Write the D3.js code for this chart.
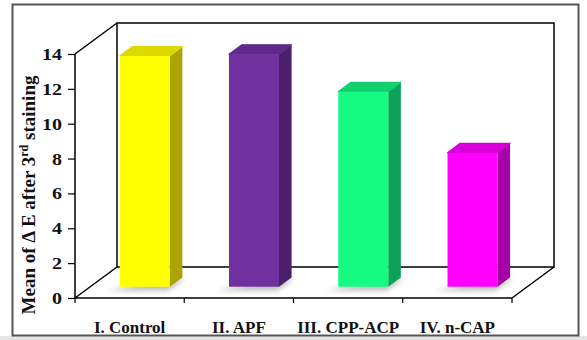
<!DOCTYPE html>
<html>
<head>
<meta charset="utf-8">
<script src="https://cdn.jsdelivr.net/npm/d3@7"></script>
<style>
  html, body { margin: 0; padding: 0; background: #fff; }
  svg { display: block; }
  text { font-family: "Liberation Serif", "Times New Roman", serif; font-weight: bold; fill: #111; }
</style>
</head>
<body>
<svg id="chart" width="587" height="340"></svg>
<script>
// Group names and mean colour change (ΔE) after the 3rd staining
const categories = ["I. Control", "II. APF", "III. CPP-ACP", "IV. n-CAP"];
const meanDeltaE = [13.25, 13.35, 11.2, 7.7];
const yTicks = [0, 2, 4, 6, 8, 10, 12, 14];

// Face colours per bar: front, top, side
const frontColors = ["#ffff00", "#7030a0", "#16fb82", "#ff00ff"];
const topColors   = ["#dcd800", "#5f2a8c", "#10d070", "#d800d8"];
const sideColors  = ["#aaa300", "#4a1f6c", "#0aa357", "#a600a6"];

const svg = d3.select("#chart");

// Outer frame and grey strip underneath it
svg.append("rect").attr("x", 0).attr("y", 336).attr("width", 587).attr("height", 4).attr("fill", "#e4e4e4");
svg.append("rect").attr("x", 12.5).attr("y", 4.5).attr("width", 566).attr("height", 331)
  .attr("fill", "#fff").attr("stroke", "#555").attr("stroke-width", 2);

// Front plane of the 3D box
const x0 = 75, x1 = 512, yBottom = 298, yTop = 54;
const depthX = 42, depthY = -31;   // projection of the full box depth

const x = d3.scaleBand().domain(categories).range([x0, x1]).padding(0);
const y = d3.scaleLinear().domain([0, 14]).range([yBottom, yTop]);

// project a front-plane point back by depth fraction t
const proj = (px, py, t) => [px + depthX * t, py + depthY * t];

const defs = svg.append("defs");
defs.append("filter").attr("id", "shadowBlur").attr("x", "-50%").attr("y", "-50%").attr("width", "200%").attr("height", "200%")
  .append("feGaussianBlur").attr("stdDeviation", 2.6);

const box = svg.append("g").attr("fill", "none").attr("stroke", "#000").attr("stroke-width", 1.5);
const line = d3.line();
const b = (px, py) => proj(px, py, 1);

// back wall
box.append("path").attr("d", line([b(x0, y(0)), b(x0, y(14)), b(x1, y(14)), b(x1, y(0)), b(x0, y(0))]));
// left wall top edge and floor edges
box.append("path").attr("d", line([[x0, y(14)], b(x0, y(14))]));
box.append("path").attr("d", line([[x0, y(0)], b(x0, y(0))]));
box.append("path").attr("d", line([[x1, y(0)], b(x1, y(0))]));

// Bars: sit between depth fractions t0 and t1
const t0 = 0.36, t1 = 0.66;
const barW = 50;
const bars = svg.append("g");

meanDeltaE.forEach((v, i) => {
  const cx = x(categories[i]) + x.bandwidth() / 2;
  const L = cx - barW / 2, R = cx + barW / 2;
  const fl = proj(L, y(0), t0), fr = proj(R, y(0), t0);
  const tl = proj(L, y(v), t0), tr = proj(R, y(v), t0);
  const btl = proj(L, y(v), t1), btr = proj(R, y(v), t1);
  const bbr = proj(R, y(0), t1);

  // soft floor shadow to the lower left of the base
  bars.append("path")
    .attr("d", line([
      [fl[0] - 12, fl[1] + 4], [fr[0] - 2, fr[1] + 4],
      [bbr[0] + 2, bbr[1] + 2], [bbr[0] - 20, bbr[1] + 2]
    ]) + "Z")
    .attr("fill", "#8a8a8a").attr("opacity", 0.55).attr("filter", "url(#shadowBlur)");

  bars.append("path").attr("d", line([tr, btr, bbr, fr]) + "Z").attr("fill", sideColors[i]);
  bars.append("path").attr("d", line([tl, btl, btr, tr]) + "Z").attr("fill", topColors[i])
    .attr("stroke", topColors[i]).attr("stroke-width", 1.2).attr("stroke-linejoin", "round");
  bars.append("path").attr("d", line([tl, tr, fr, fl]) + "Z").attr("fill", frontColors[i]);
});

// Front axis lines
const axes = svg.append("g").attr("stroke", "#000").attr("stroke-width", 1.5).attr("fill", "none");
axes.append("path").attr("d", line([[x0, y(14)], [x0, y(0)], [x1, y(0)]]));

// Y axis ticks and labels (digits drawn slightly wide)
const yAxis = d3.axisLeft(y).tickValues(yTicks).tickSize(7).tickSizeOuter(0).tickPadding(5);
const gy = svg.append("g").attr("transform", `translate(${x0},0)`).call(yAxis);
gy.select(".domain").remove();
gy.selectAll(".tick line").attr("stroke", "#000").attr("stroke-width", 1.2);
gy.selectAll(".tick text")
  .attr("x", 0).attr("dy", "0.34em")
  .attr("transform", "translate(-13,0) scale(1.25,1)")
  .style("font-size", "16px").style("font-family", "Liberation Serif").style("font-weight", "bold").attr("fill", "#111");

// X axis ticks at group boundaries
const bounds = categories.map(c => x(c)).concat([x1]);
svg.append("g").selectAll("line").data(bounds).join("line")
  .attr("x1", d => d).attr("x2", d => d).attr("y1", y(0)).attr("y2", y(0) + 5)
  .attr("stroke", "#000").attr("stroke-width", 1.2);

// Category labels
svg.append("g").selectAll("text").data(categories).join("text")
  .attr("x", d => x(d) + x.bandwidth() / 2)
  .attr("y", 333)
  .attr("text-anchor", "middle")
  .style("font-size", "17px")
  .text(d => d);

// Y axis title
const title = svg.append("text")
  .attr("transform", "translate(35,195) rotate(-90)")
  .attr("text-anchor", "middle")
  .style("font-size", "19px");
title.append("tspan").text("Mean of \u0394 E after 3");
title.append("tspan").attr("baseline-shift", "super").style("font-size", "12px").text("rd");
title.append("tspan").text(" staining");
</script>
</body>
</html>
